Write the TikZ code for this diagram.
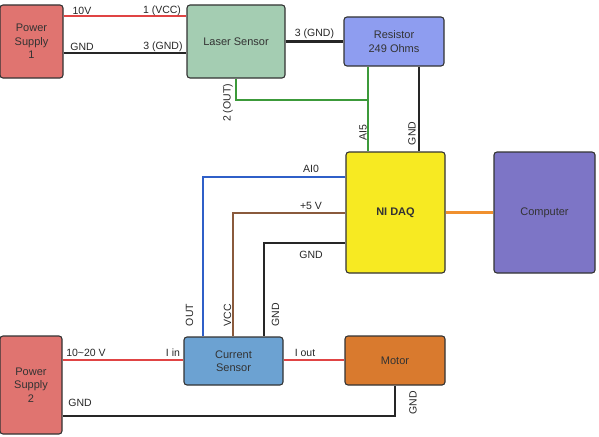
\documentclass[tikz,border=0pt]{standalone}
\usepackage{fontspec}
\setmainfont{Liberation Sans}
\usetikzlibrary{backgrounds}
\definecolor{psred}{HTML}{E07470}
\definecolor{lasergreen}{HTML}{A4CDB2}
\definecolor{resblue}{HTML}{8E9DF0}
\definecolor{daqyel}{HTML}{F7EA22}
\definecolor{comppur}{HTML}{7D75C6}
\definecolor{csblue}{HTML}{6CA2D2}
\definecolor{motorc}{HTML}{D97A2E}
\definecolor{wred}{HTML}{E04444}
\definecolor{wgreen}{HTML}{3C9A3A}
\definecolor{wblue}{HTML}{2F5FC8}
\definecolor{wbrown}{HTML}{8A5A3C}
\definecolor{worange}{HTML}{F0902E}
\begin{document}
\begin{tikzpicture}[x=1pt,y=-1pt,
  box/.style={draw=black!80,line width=1.1pt,rounded corners=3pt,align=center,
    inner sep=0pt,text=black!80,font=\fontsize{11}{13.3}\selectfont},
  lbl/.style={text=black!85,font=\fontsize{10.5}{12}\selectfont,inner sep=0pt},
  wire/.style={line width=2.6pt},
  redw/.style={wire,draw=wred},
  blk/.style={wire,draw=black!85},
  grn/.style={wire,draw=wgreen},
  blu/.style={wire,draw=wblue},
  brn/.style={wire,draw=wbrown},
  org/.style={wire,draw=worange}]
\useasboundingbox (0,0) rectangle (599,436);

\coordinate (y16) at (0,16);
\coordinate (y53) at (0,53);
\coordinate (gx) at (368,100);
\coordinate (gndx) at (419,0);
\coordinate (y177) at (0,177);
\coordinate (x203) at (203,0);
\coordinate (y213) at (0,213);
\coordinate (x233) at (233,0);
\coordinate (y243) at (0,243);
\coordinate (x264) at (264,0);
\coordinate (y360) at (0,360);
\coordinate (y416) at (0,416);

% boxes
\node[box,fill=psred,minimum width=63pt,minimum height=73pt] (ps1) at (31.5,41.5) {Power\\Supply\\1};
\node[box,fill=lasergreen,minimum width=98pt,minimum height=73pt] (laser) at (236,41.5) {Laser Sensor};
\node[box,fill=resblue,minimum width=100pt,minimum height=49pt] (res) at (394,41.5) {Resistor\\249 Ohms};
\node[box,fill=daqyel,minimum width=99pt,minimum height=121pt] (daq) at (395.5,212.5) {\textbf{NI DAQ}};
\node[box,fill=comppur,minimum width=101pt,minimum height=121pt] (comp) at (544.5,212.5) {Computer};
\node[box,fill=psred,minimum width=62pt,minimum height=98pt] (ps2) at (31,385) {Power\\Supply\\2};
\node[box,fill=csblue,minimum width=99pt,minimum height=48pt] (cs) at (233.5,361) {Current\\Sensor};
\node[box,fill=motorc,minimum width=100pt,minimum height=49pt] (motor) at (395,360.5) {Motor};

\begin{scope}[on background layer]
\draw[redw] (ps1.east |- y16) -- (laser.west |- y16);
\draw[blk] (ps1.east |- y53) -- (laser.west |- y53);
\draw[blk] (laser.east) -- (res.west);
\draw[grn] (laser.south) |- (gx);
\draw[grn] (gx |- res.south) -- (gx |- daq.north);
\draw[blk] (gndx |- res.south) -- (gndx |- daq.north);
\draw[org] (daq.east) -- (comp.west);
\draw[blu] (daq.west |- y177) -| (x203 |- cs.north);
\draw[brn] (daq.west |- y213) -| (x233 |- cs.north);
\draw[blk] (daq.west |- y243) -| (x264 |- cs.north);
\draw[redw] (ps2.east |- y360) -- (cs.west |- y360);
\draw[redw] (cs.east |- y360) -- (motor.west |- y360);
\draw[blk] (ps2.east |- y416) -| (motor.south);
\end{scope}

% labels
\node[lbl] (l10v) at (82,10.5) {10V};
\node[lbl] (lvcc) at (162,10.5) {1 (VCC)};
\node[lbl] (lg1) at (82,46.5) {GND};
\node[lbl] (lg2) at (163,46.5) {3 (GND)};
\node[lbl] (lg3) at (314.5,34) {3 (GND)};
\node[lbl,rotate=90] (lout) at (228,103) {2 (OUT)};
\node[lbl,rotate=90] (lai5) at (363,133) {AI5};
\node[lbl,rotate=90] (lg4) at (412,133.5) {GND};
\node[lbl] (lai0) at (311,169) {AI0};
\node[lbl] (l5v) at (311,206) {+5 V};
\node[lbl] (lg5) at (311,255) {GND};
\node[lbl,rotate=90] (lout2) at (189.5,315) {OUT};
\node[lbl,rotate=90] (lvcc2) at (227.5,315) {VCC};
\node[lbl,rotate=90] (lg6) at (275.5,315) {GND};
\node[lbl] (l1020) at (86,352.5) {10\textasciitilde20 V};
\node[lbl] (lin) at (173,352.5) {I in};
\node[lbl] (lg7) at (80,402.5) {GND};
\node[lbl] (liout) at (305,353) {I out};
\node[lbl,rotate=90] (lg8) at (413,403) {GND};
\end{tikzpicture}
\end{document}
